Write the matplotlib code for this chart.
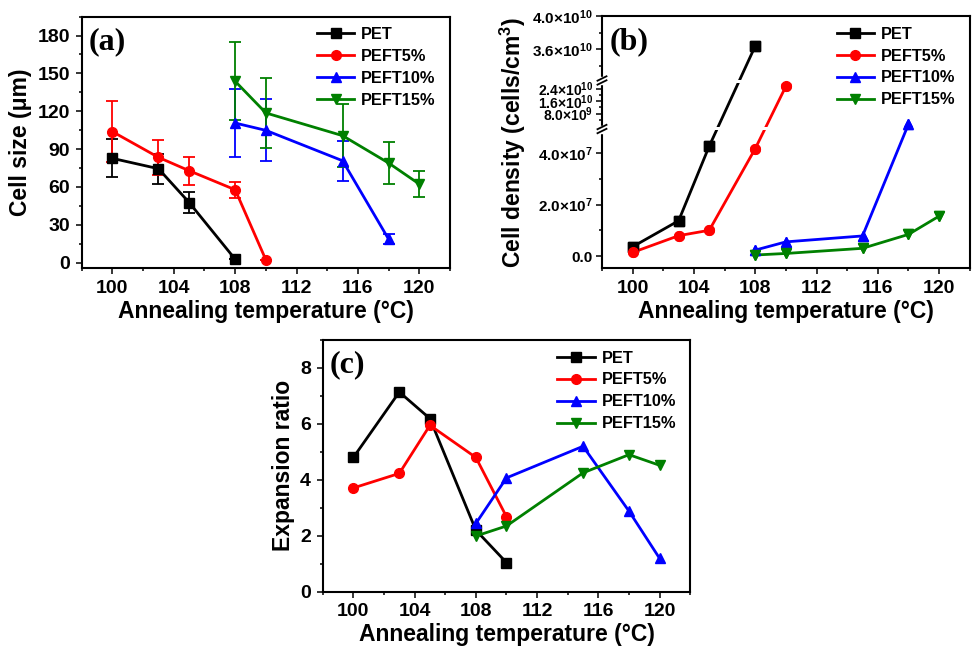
import numpy as np
import matplotlib
matplotlib.use("Agg")
import matplotlib.pyplot as plt
from matplotlib.ticker import MultipleLocator, FixedLocator, FixedFormatter
from matplotlib.patches import Rectangle

plt.rcParams['font.family'] = ['Liberation Sans', 'DejaVu Sans']
plt.rcParams['font.weight'] = 'bold'
plt.rcParams['axes.labelweight'] = 'bold'
plt.rcParams['mathtext.fontset'] = 'custom'
plt.rcParams['mathtext.rm'] = 'Liberation Sans:bold'
plt.rcParams['mathtext.bf'] = 'Liberation Sans:bold'
plt.rcParams['mathtext.default'] = 'bf'

# ---- data ----
names = ["PET", "PEFT5%", "PEFT10%", "PEFT15%"]
colors = ["black", "red", "blue", "#008000"]
markers = ["s", "o", "^", "v"]

t_pet = [100, 103, 105, 108, 110]
t_peft5 = [100, 103, 105, 108, 110]
t_peft10 = [108, 110, 115, 118, 120]
t_peft15 = [108, 110, 115, 118, 120]

# (a) cell size (um) with error bars
size_pet = [82.6, 74.4, 47.6, 2.6]
size_pet_err = [15, 12, 8, 0]
size_peft5 = [103.8, 83.4, 72.8, 57.7, 2.1]
size_peft5_err = [24, 14, 11, 6.5, 0]
size_peft10 = [110.6, 104.8, 80.7, 18.5]
size_peft10_err = [27, 24.5, 16, 4]
size_peft15 = [143.7, 118.6, 100.6, 78.9, 62.2]
size_peft15_err = [31, 28, 25, 16.5, 10.5]

# (b) cell density (cells/cm3)
dens_pet = [3.6e6, 1.37e7, 4.27e7, 3.64e10]
dens_peft5 = [1.4e6, 7.9e6, 1.0e7, 4.17e7, 2.55e10]
dens_peft10 = [2.3e6, 5.5e6, 7.8e6, 1.2e9]
dens_peft15 = [0.4e6, 1.0e6, 3.0e6, 8.4e6, 1.55e7]

# (c) expansion ratio
exp_pet = [4.80, 7.14, 6.19, 2.20, 1.04]
exp_peft5 = [3.71, 4.23, 5.95, 4.80, 2.68]
exp_peft10 = [2.44, 4.07, 5.20, 2.88, 1.19]
exp_peft15 = [1.99, 2.35, 4.25, 4.90, 4.52]

b_ticks = [0, 2e7, 4e7, 8e9, 1.6e10, 2.4e10, 3.6e10, 4.0e10]
b_ticklabels = ['0.0', '2.0×10$^7$', '4.0×10$^7$', '8.0×10$^9$',
                '1.6×10$^{10}$', '2.4×10$^{10}$', '3.6×10$^{10}$', '4.0×10$^{10}$']
b_minor = [1e7, 3e7, 4e9, 1.2e10, 2.0e10, 3.4e10, 3.8e10]

# broken axis for (b): value anchors -> screen units
brk_vals = [-4.65e6, 4.95e7, 5.0e7, 2.87e10, 3.24e10, 4.0e10]
brk_disp = [0, 139.7, 142.3, 187, 189, 252.3]


def fwd(v):
    return np.interp(v, brk_vals, brk_disp)


def inv(d):
    return np.interp(d, brk_disp, brk_vals)


def style_axes(ax):
    for s in ax.spines.values():
        s.set_linewidth(1.5)
    ax.set_xlim(98, 122)
    ax.xaxis.set_major_locator(MultipleLocator(4))
    ax.xaxis.set_minor_locator(MultipleLocator(2))
    ax.tick_params(which='both', direction='out', top=False, right=False, width=1.1)
    ax.tick_params(which='major', length=4.5, labelsize=14, pad=4)
    ax.tick_params(which='minor', length=2.5)
    ax.set_xlabel("Annealing temperature (°C)", fontsize=16.5, labelpad=2)


def add_legend(ax, handles):
    ax.legend(handles, names, loc='upper left', bbox_to_anchor=(0.638, 0.958),
              frameon=False, fontsize=11.8, handlelength=2.3, handletextpad=0.4,
              labelspacing=0.42, borderaxespad=0, borderpad=0, numpoints=1)


def panel_label(ax, txt):
    ax.text(0.02, 0.9, txt, transform=ax.transAxes, fontsize=23,
            family='Liberation Serif', fontweight='bold', va='center', ha='left')


fig = plt.figure(figsize=(9.73, 6.51), dpi=100)
ax_a = fig.add_axes([0.084, 0.588, 0.3785, 0.3865])
ax_b = fig.add_axes([0.6187, 0.5883, 0.378, 0.387])
ax_c = fig.add_axes([0.3317, 0.0911, 0.3777, 0.3866])

# ---- (a) ----
xs = [t_pet[:4], t_peft5, t_peft10[:4], t_peft15]
ys = [size_pet, size_peft5, size_peft10, size_peft15]
es = [size_pet_err, size_peft5_err, size_peft10_err, size_peft15_err]
hs = []
for x, y, e, c, m in zip(xs, ys, es, colors, markers):
    eb = ax_a.errorbar(x, y, yerr=e, color=c, marker=m, ms=7, lw=2,
                       capsize=4, elinewidth=1.3, capthick=1.3)
    hs.append(eb[0])
style_axes(ax_a)
ax_a.set_ylim(-4.5, 195)
ax_a.yaxis.set_major_locator(MultipleLocator(30))
ax_a.yaxis.set_minor_locator(MultipleLocator(15))
ax_a.set_ylabel("Cell size (μm)", fontsize=16.5, labelpad=4)
add_legend(ax_a, hs)
panel_label(ax_a, "(a)")

# ---- (b) ----
ax_b.set_yscale('function', functions=(fwd, inv))
xs = [t_pet[:4], t_peft5, t_peft10[:4], t_peft15]
ys = [dens_pet, dens_peft5, dens_peft10, dens_peft15]
hs = []
for x, y, c, m in zip(xs, ys, colors, markers):
    ln, = ax_b.plot(x, y, color=c, marker=m, ms=7, lw=2, zorder=2)
    hs.append(ln)
# white gaps where lines cross the breaks, then markers again on top
for d0, d1 in [(137.8, 140.8), (184.8, 188)]:
    ax_b.axhspan(inv(d0), inv(d1), color='white', lw=0, zorder=2.1)
for x, y, c, m in zip(xs, ys, colors, markers):
    ax_b.plot(x, y, ls='none', color=c, marker=m, ms=7, zorder=2.3)
style_axes(ax_b)
ax_b.set_ylim(brk_vals[0], brk_vals[-1])
ax_b.yaxis.set_major_locator(FixedLocator(b_ticks))
ax_b.yaxis.set_major_formatter(FixedFormatter(b_ticklabels))
ax_b.yaxis.set_minor_locator(FixedLocator(b_minor))
ax_b.tick_params(axis='y', which='major', labelsize=11, pad=2)
# the middle segment is tight, its labels sit close together like the original
for lab in ax_b.get_yticklabels()[3:6]:
    lab.set_fontsize(10)
ax_b.set_ylabel("Cell density (cells/cm$^3$)", fontsize=16.5, labelpad=3)
add_legend(ax_b, hs)
panel_label(ax_b, "(b)")

# break marks on the left spine
dx = 4.5 / 368
for d in [139.2, 187.8]:
    yf = d / brk_disp[-1]
    ax_b.add_patch(Rectangle((-0.01, yf - 3.5 / 252), 0.02, 7 / 252,
                             transform=ax_b.transAxes, color='white',
                             clip_on=False, zorder=3))
    for off in [-2.0 / 252, 2.0 / 252]:
        ax_b.plot([-dx, dx], [yf + off - 2.2 / 252, yf + off + 2.2 / 252],
                  transform=ax_b.transAxes, color='black', lw=1.3,
                  clip_on=False, zorder=4)

# ---- (c) ----
xs = [t_pet, t_peft5, t_peft10, t_peft15]
ys = [exp_pet, exp_peft5, exp_peft10, exp_peft15]
hs = []
for x, y, c, m in zip(xs, ys, colors, markers):
    ln, = ax_c.plot(x, y, color=c, marker=m, ms=7, lw=2)
    hs.append(ln)
style_axes(ax_c)
ax_c.set_ylim(0, 9)
ax_c.yaxis.set_major_locator(MultipleLocator(2))
ax_c.yaxis.set_minor_locator(MultipleLocator(1))
ax_c.set_ylabel("Expansion ratio", fontsize=16.5, labelpad=4)
add_legend(ax_c, hs)
panel_label(ax_c, "(c)")

fig.savefig("out.png", dpi=100)
